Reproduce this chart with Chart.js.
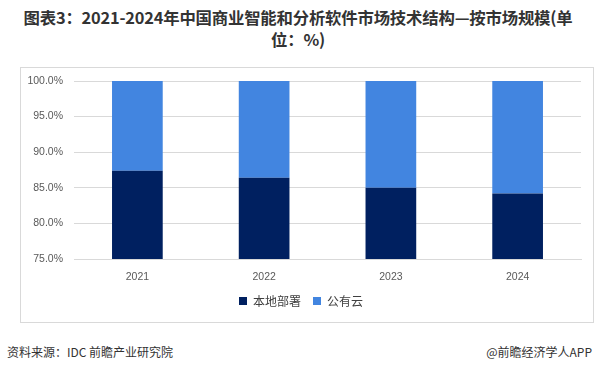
<!DOCTYPE html>
<html><head><meta charset="utf-8">
<script src="https://cdn.jsdelivr.net/npm/chart.js@4"></script>
<style>
html,body{margin:0;padding:0;background:#fff;}
body{width:596px;height:375px;position:relative;overflow:hidden;font-family:"Noto Sans CJK SC","DejaVu Sans",sans-serif;}
#title{position:absolute;left:0;top:6px;width:596px;text-align:center;font-weight:bold;font-size:16.4px;line-height:22px;color:#333;letter-spacing:-0.2px;}
#box{position:absolute;left:20px;top:67px;width:572px;height:254px;border:1px solid #d9d9d9;}
#src{position:absolute;left:7px;top:343px;font-size:12px;color:#333;}
#app{position:absolute;right:4px;top:343px;font-size:12px;color:#333;}
</style></head><body>
<div id="title">图表3：2021-2024年中国商业智能和分析软件市场技术结构—按市场规模(单<br>位：%)</div>
<div id="box"><canvas id="c" width="572" height="254"></canvas></div>
<div id="src">资料来源：IDC 前瞻产业研究院</div>
<div id="app">@前瞻经济学人APP</div>
<script>
const categories = ['2021','2022','2023','2024'];
const seriesNames = ['本地部署','公有云'];
const localDeploy = [87.4, 86.4, 85.0, 84.2];
const publicCloud = [12.6, 13.6, 15.0, 15.8];
const yMin = 75, yMax = 100, yStep = 5;

new Chart(document.getElementById('c'), {
  type: 'bar',
  data: {
    labels: categories,
    datasets: [
      {label: seriesNames[0], data: localDeploy, backgroundColor: '#002060', categoryPercentage: 0.8, barPercentage: 0.5},
      {label: seriesNames[1], data: publicCloud, backgroundColor: '#4285E0', categoryPercentage: 0.8, barPercentage: 0.5}
    ]
  },
  options: {
    responsive: false,
    animation: false,
    devicePixelRatio: 1,
    layout: {padding: {left: 0, right: 12, top: 13, bottom: 5}},
    plugins: {
      tooltip: {enabled: false},
      legend: {
        position: 'bottom',
        labels: {
          boxWidth: 8, boxHeight: 8, padding: 12, color: '#404040',
          font: {family: '"Noto Sans CJK SC"', size: 12}
        }
      }
    },
    scales: {
      x: {
        stacked: true,
        grid: {display: false, drawTicks: false},
        border: {display: true, color: '#d9d9d9'},
        ticks: {color: '#595959', font: {family: '"Liberation Sans"', size: 10.5}, padding: 12},
        afterFit: s => { s.height = 24; }
      },
      y: {
        stacked: true,
        min: yMin, max: yMax,
        grid: {color: '#d9d9d9', drawTicks: false},
        border: {display: false},
        ticks: {stepSize: yStep, color: '#595959', padding: 11,
          font: {family: '"Liberation Sans"', size: 10.5},
          callback: v => v.toFixed(1) + '%'},
        afterFit: s => { s.width = 53; s.paddingTop = 0; s.paddingBottom = 0; }
      }
    }
  }
});
</script>
</body></html>
